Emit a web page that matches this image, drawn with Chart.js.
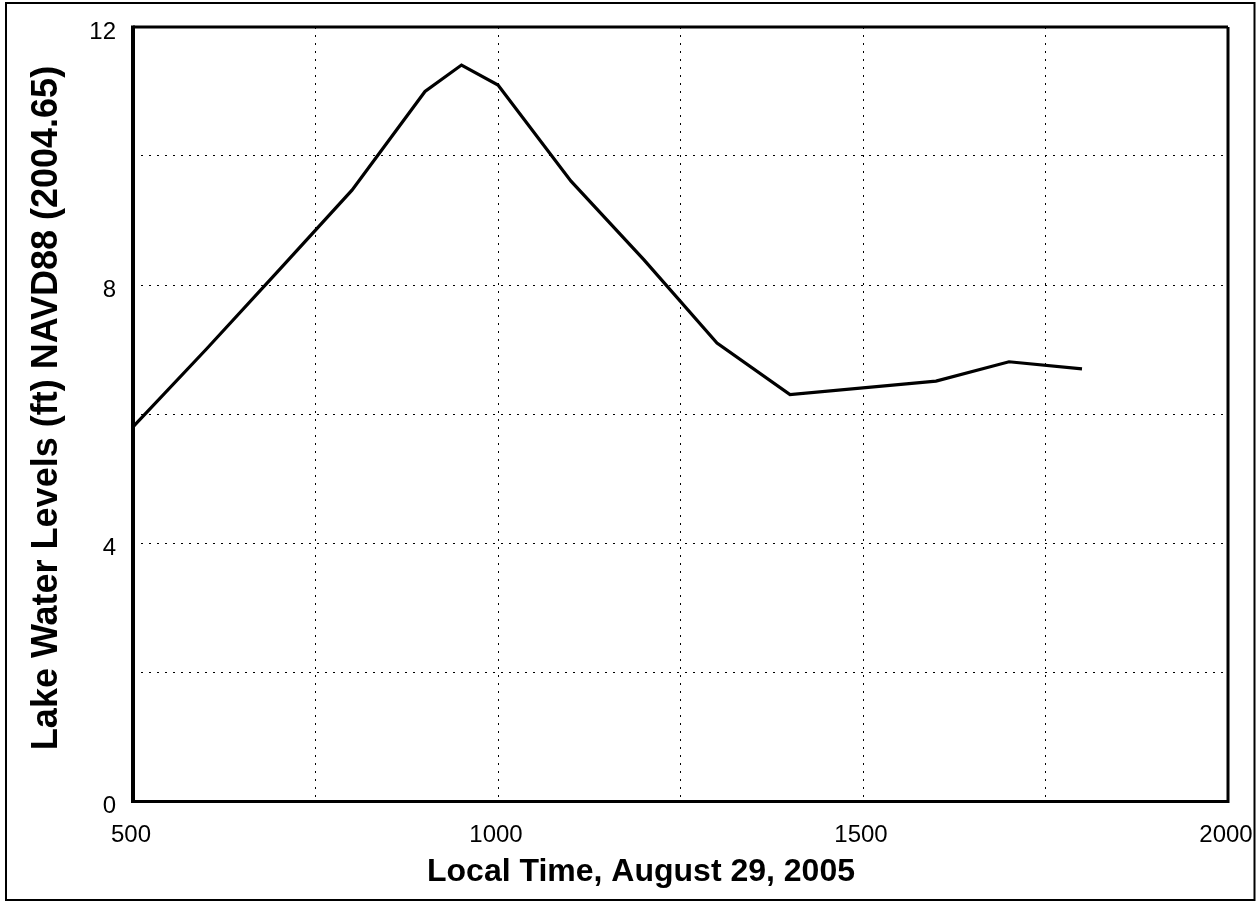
<!DOCTYPE html>
<html>
<head>
<meta charset="utf-8">
<script src="https://cdn.jsdelivr.net/npm/chart.js@4/dist/chart.umd.min.js"></script>
<style>
html,body{margin:0;padding:0;background:#fff;}
canvas{display:block;}
</style>
</head>
<body>
<canvas id="c" width="1258" height="903"></canvas>
<script>
// ---- data ----
const timeValues = [500, 600, 700, 800, 900, 950, 1000, 1100, 1200, 1300, 1400, 1600, 1700, 1800];
const lakeLevels = [5.80, 7.00, 8.23, 9.47, 11.00, 11.41, 11.10, 9.61, 8.39, 7.10, 6.30, 6.51, 6.81, 6.70];
const xTickLabels = [500, 1000, 1500, 2000];
const yTickLabels = [0, 4, 8, 12];
const xTitle = "Local Time, August 29, 2005";
const yTitle = "Lake Water Levels (ft) NAVD88 (2004.65)";

const points = timeValues.map((t, i) => ({x: t, y: lakeLevels[i]}));

const framePlugin = {
  id: 'frame',
  beforeDraw(chart) {
    const ctx = chart.ctx;
    ctx.save();
    ctx.fillStyle = '#fff';
    ctx.fillRect(0, 0, chart.width, chart.height);
    ctx.restore();
  },
  afterDraw(chart) {
    const ctx = chart.ctx;
    const a = chart.chartArea;
    ctx.save();
    ctx.strokeStyle = '#000';
    // outer frame
    ctx.lineWidth = 2;
    ctx.strokeRect(6, 3, 1248.5, 897);
    // plot box
    ctx.lineWidth = 3;
    ctx.beginPath();
    ctx.moveTo(a.left, a.top); ctx.lineTo(a.right, a.top);
    ctx.moveTo(a.right, a.top); ctx.lineTo(a.right, a.bottom + 1.5);
    ctx.moveTo(a.left, a.bottom + 0.5); ctx.lineTo(a.right + 1.5, a.bottom + 0.5);
    ctx.stroke();
    ctx.lineWidth = 4;
    ctx.beginPath();
    ctx.moveTo(a.left, a.top - 1.5); ctx.lineTo(a.left, a.bottom + 2);
    ctx.stroke();
    // titles
    ctx.fillStyle = '#000';
    ctx.font = 'bold 32px "Liberation Sans", Arial, sans-serif';
    ctx.textAlign = 'center';
    ctx.textBaseline = 'alphabetic';
    ctx.fillText(xTitle, 641, 881);
    ctx.translate(57, 408);
    ctx.rotate(-Math.PI / 2);
    ctx.font = 'bold 36px "Liberation Sans", Arial, sans-serif';
    ctx.fillText(yTitle, 0, 0);
    ctx.restore();
  }
};

new Chart(document.getElementById('c'), {
  type: 'line',
  data: {
    datasets: [{
      data: points,
      borderColor: '#000',
      borderWidth: 3.2,
      pointRadius: 0,
      tension: 0,
      fill: false
    }]
  },
  options: {
    responsive: false,
    animation: false,
    events: [],
    layout: {padding: {left: 0, top: 27, right: 30, bottom: 0}},
    plugins: {legend: {display: false}, tooltip: {enabled: false}},
    scales: {
      x: {
        type: 'linear',
        min: 500, max: 2000,
        afterFit(s) { s.height = 102; s.paddingLeft = 0; s.paddingRight = 0; },
        border: {display: false, dash: [2, 6]},
        grid: {color: '#000', lineWidth: 1, drawTicks: false},
        ticks: {
          stepSize: 250,
          padding: 20,
          labelOffset: -2,
          maxRotation: 0,
          autoSkip: false,
          color: '#000',
          font: {family: '"Liberation Sans", Arial, sans-serif', size: 24},
          callback: v => xTickLabels.includes(v) ? String(v) : ''
        }
      },
      y: {
        type: 'linear',
        min: 0, max: 12,
        afterFit(s) { s.width = 133; s.paddingTop = 0; s.paddingBottom = 0; },
        border: {display: false, dash: [2, 6]},
        grid: {color: '#000', lineWidth: 1, drawTicks: false},
        ticks: {
          stepSize: 2,
          padding: 17,
          labelOffset: 5,
          autoSkip: false,
          color: '#000',
          font: {family: '"Liberation Sans", Arial, sans-serif', size: 24},
          callback: v => yTickLabels.includes(v) ? String(v) : ''
        }
      }
    }
  },
  plugins: [framePlugin]
});
</script>
</body>
</html>
